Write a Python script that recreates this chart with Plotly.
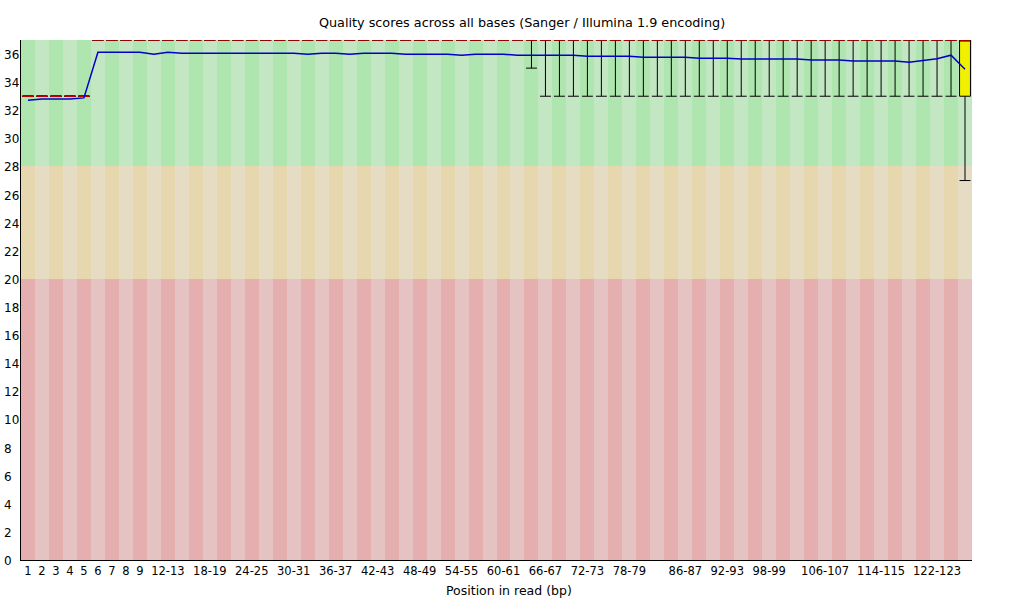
import plotly.graph_objects as go

positions = ["1", "2", "3", "4", "5", "6", "7", "8", "9"] + [
    "10-11", "12-13", "14-15", "16-17", "18-19", "20-21", "22-23", "24-25", "26-27", "28-29",
    "30-31", "32-33", "34-35", "36-37", "38-39", "40-41", "42-43", "44-45", "46-47", "48-49",
    "50-51", "52-53", "54-55", "56-57", "58-59", "60-61", "62-63", "64-65", "66-67", "68-69",
    "70-71", "72-73", "74-75", "76-77", "78-79", "80-81", "82-83", "84-85", "86-87", "88-89",
    "90-91", "92-93", "94-95", "96-97", "98-99", "100-101", "102-103", "104-105", "106-107",
    "108-109", "110-111", "112-113", "114-115", "116-117", "118-119", "120-121", "122-123",
    "124-125", "126-127"]

tick_labels = ["1", "2", "3", "4", "5", "6", "7", "8", "9", "12-13", "18-19", "24-25", "30-31",
               "36-37", "42-43", "48-49", "54-55", "60-61", "66-67", "72-73", "78-79", "86-87",
               "92-93", "98-99", "106-107", "114-115", "122-123"]

mean_q = [32.72, 32.81, 32.81, 32.81, 32.88, 36.13, 36.13, 36.13, 36.13, 35.99,
          36.13, 36.06, 36.06, 36.06, 36.06, 36.06, 36.06, 36.06, 36.06, 36.06,
          35.99, 36.06, 36.06, 35.99, 36.06, 36.06, 36.06, 35.99, 35.99, 35.99,
          35.99, 35.92, 35.99, 35.99, 35.99, 35.92, 35.92, 35.92, 35.92, 35.92,
          35.85, 35.85, 35.85, 35.85, 35.78, 35.78, 35.78, 35.78, 35.71, 35.71,
          35.71, 35.64, 35.64, 35.64, 35.64, 35.64, 35.57, 35.57, 35.57, 35.50,
          35.50, 35.50, 35.50, 35.42, 35.55, 35.66, 35.92, 34.92]

median_q = [33, 33, 33, 33, 33, 37, 37, 37, 37, 37, 37, 37, 37, 37, 37, 37, 37, 37, 37, 37,
            37, 37, 37, 37, 37, 37, 37, 37, 37, 37, 37, 37, 37, 37, 37, 37, 37, 37, 37, 37,
            37, 37, 37, 37, 37, 37, 37, 37, 37, 37, 37, 37, 37, 37, 37, 37, 37, 37, 37, 37,
            37, 37, 37, 37, 37, 37, 37, 37]

lower_quartile = [33, 33, 33, 33, 33, 37, 37, 37, 37, 37, 37, 37, 37, 37, 37, 37, 37, 37, 37, 37,
                  37, 37, 37, 37, 37, 37, 37, 37, 37, 37, 37, 37, 37, 37, 37, 37, 37, 37, 37, 37,
                  37, 37, 37, 37, 37, 37, 37, 37, 37, 37, 37, 37, 37, 37, 37, 37, 37, 37, 37, 37,
                  37, 37, 37, 37, 37, 37, 37, 33]

upper_quartile = [33, 33, 33, 33, 33, 37, 37, 37, 37, 37, 37, 37, 37, 37, 37, 37, 37, 37, 37, 37,
                  37, 37, 37, 37, 37, 37, 37, 37, 37, 37, 37, 37, 37, 37, 37, 37, 37, 37, 37, 37,
                  37, 37, 37, 37, 37, 37, 37, 37, 37, 37, 37, 37, 37, 37, 37, 37, 37, 37, 37, 37,
                  37, 37, 37, 37, 37, 37, 37, 37]

percentile_10 = [33, 33, 33, 33, 33, 37, 37, 37, 37, 37, 37, 37, 37, 37, 37, 37, 37, 37, 37, 37,
                 37, 37, 37, 37, 37, 37, 37, 37, 37, 37, 37, 37, 37, 37, 37, 37, 35, 33, 33, 33,
                 33, 33, 33, 33, 33, 33, 33, 33, 33, 33, 33, 33, 33, 33, 33, 33, 33, 33, 33, 33,
                 33, 33, 33, 33, 33, 33, 33, 27]

percentile_90 = [33, 33, 33, 33, 33, 37, 37, 37, 37, 37, 37, 37, 37, 37, 37, 37, 37, 37, 37, 37,
                 37, 37, 37, 37, 37, 37, 37, 37, 37, 37, 37, 37, 37, 37, 37, 37, 37, 37, 37, 37,
                 37, 37, 37, 37, 37, 37, 37, 37, 37, 37, 37, 37, 37, 37, 37, 37, 37, 37, 37, 37,
                 37, 37, 37, 37, 37, 37, 37, 37]

y_ticks = [0, 2, 4, 6, 8, 10, 12, 14, 16, 18, 20, 22, 24, 26, 28, 30, 32, 34, 36]

# quality zones: (bottom, top, dark colour, light colour)
zones = [
    (0, 20, "rgb(230,175,175)", "rgb(230,195,195)"),
    (20, 28, "rgb(230,215,175)", "rgb(230,220,195)"),
    (28, 37, "rgb(175,230,175)", "rgb(195,230,195)"),
]
Y_MAX = 37
BOX_W = 0.78
FONT = "DejaVu Sans"

idx = list(range(len(positions)))

fig = go.Figure()

for lo, hi, dark, light in zones:
    fig.add_trace(go.Bar(
        x=idx, y=[hi - lo] * len(idx), base=lo, width=1,
        marker=dict(color=[dark if i % 2 == 0 else light for i in idx], line=dict(width=0)),
        hoverinfo="skip", showlegend=False))

fig.add_trace(go.Box(
    x=idx, q1=lower_quartile, median=median_q, q3=upper_quartile,
    lowerfence=percentile_10, upperfence=percentile_90,
    width=BOX_W, whiskerwidth=1, boxpoints=False,
    fillcolor="rgb(240,240,0)", line=dict(color="black", width=1),
    hoverinfo="skip", showlegend=False))

mx, my = [], []
for i, m in zip(idx, median_q):
    mx += [i - BOX_W / 2, i + BOX_W / 2, None]
    my += [m, m, None]
fig.add_trace(go.Scatter(x=mx, y=my, mode="lines", line=dict(color="rgb(200,0,0)", width=1.5),
                         hoverinfo="skip", showlegend=False, cliponaxis=False))

fig.add_trace(go.Scatter(x=idx, y=mean_q, mode="lines", line=dict(color="rgb(0,0,200)", width=1.5),
                         hoverinfo="skip", showlegend=False))

tickvals = [positions.index(t) for t in tick_labels]

fig.update_layout(
    width=1020, height=600,
    margin=dict(l=21, r=48, t=40, b=40),
    paper_bgcolor="white", plot_bgcolor="white",
    barmode="overlay", bargap=0,
    showlegend=False,
    font=dict(family=FONT, size=11, color="black"),
    title=dict(text="Quality scores across all bases (Sanger / Illumina 1.9 encoding)",
               x=(522 - 21) / 951, xref="paper", xanchor="center",
               y=1 - 23 / 600, yanchor="middle", font=dict(family=FONT, size=12.8, color="black")),
    xaxis=dict(range=[-0.5, len(positions) - 0.5], tickmode="array", tickvals=tickvals,
               ticktext=tick_labels, ticks="", showgrid=False, zeroline=False,
               showline=True, linecolor="black", linewidth=1,
               tickfont=dict(family=FONT, size=11.5, color="black")),
    yaxis=dict(range=[0, Y_MAX], showticklabels=False, ticks="", showgrid=False, zeroline=False,
               showline=True, linecolor="black", linewidth=1),
)

for v in y_ticks:
    fig.add_annotation(text=str(v), x=(2 - 21) / 951, xref="paper", xanchor="left",
                       y=v, yref="y", yanchor="middle", yshift=-1, showarrow=False,
                       font=dict(family=FONT, size=12, color="black"))

fig.add_annotation(text="Position in read (bp)", x=(509 - 21) / 951, xref="paper", xanchor="center",
                   y=(560 - 590) / 520, yref="paper", yanchor="middle", showarrow=False,
                   font=dict(family=FONT, size=12.5, color="black"))

fig.write_html("out.html")
